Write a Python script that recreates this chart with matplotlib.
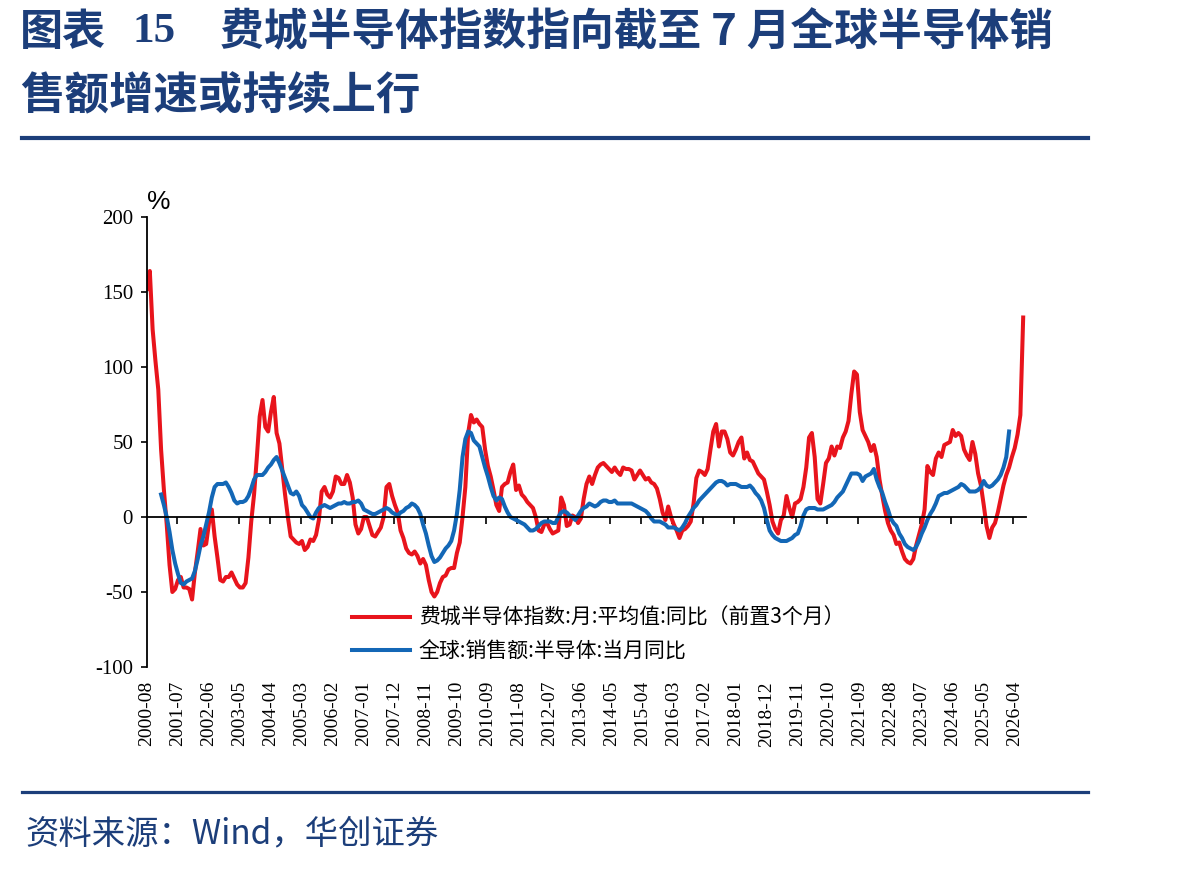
import numpy as np
import pandas as pd
import matplotlib
matplotlib.use("Agg")
import matplotlib.pyplot as plt
from matplotlib.lines import Line2D

# fonts: CJK first, then DejaVu for anything missing
plt.rcParams['font.family'] = ['Noto Sans CJK SC', 'DejaVu Sans']
plt.rcParams['axes.unicode_minus'] = False

# monthly axis, 2000-08 .. 2026-07
months = pd.period_range('2000-08', periods=312, freq='M').strftime('%Y-%m')
tick_labels = list(months[::11])

# SOX monthly average, yoy, shifted forward 3 months (%)
sox_yoy = [
    152, 164, 125, 104, 85, 45, 18, -5, -32, -50, -48, -42,
    -40, -47, -47, -48, -55, -37, -23, -8, -19, -18, -4, 5,
    -13, -27, -42, -43, -40, -40, -37, -41, -45, -47, -47, -44,
    -27, -3, 15, 40, 67, 78, 60, 57, 70, 80, 56, 49,
    32, 15, 0, -13, -15, -17, -18, -16, -22, -20, -15, -16,
    -12, -2, 17, 20, 15, 13, 17, 27, 26, 22, 22, 28,
    23, 13, -5, -11, -8, 0, 0, -6, -12, -13, -10, -7,
    0, 20, 22, 14, 8, 3, -9, -14, -21, -24, -25, -23,
    -26, -31, -28, -32, -42, -50, -53, -50, -44, -40, -39, -35,
    -34, -34, -24, -17, 0, 20, 56, 68, 63, 65, 62, 60,
    45, 34, 27, 18, 8, 4, 20, 22, 23, 30, 35, 18,
    21, 15, 13, 10, 8, 6, 0, -9, -10, -5, -4, -8,
    -11, -10, -9, 13, 8, -6, -5, 1, 0, -4, -1, 12,
    22, 27, 22, 28, 33, 35, 36, 34, 32, 30, 33, 30,
    28, 33, 32, 32, 31, 25, 28, 31, 28, 25, 26, 23,
    22, 19, 12, 3, -2, 7, 0, -5, -9, -14, -9, -8,
    -6, -3, 9, 26, 31, 30, 28, 32, 45, 57, 62, 47,
    57, 57, 52, 43, 41, 45, 50, 53, 39, 43, 38, 37,
    33, 29, 27, 25, 17, 8, -3, -8, -11, -2, 1, 14,
    6, 0, 9, 10, 12, 20, 33, 53, 56, 40, 12, 9,
    22, 36, 39, 47, 41, 47, 46, 53, 57, 64, 82, 97,
    95, 70, 58, 54, 50, 44, 48, 40, 25, 14, 4, -4,
    -9, -12, -18, -17, -23, -28, -30, -31, -28, -19, -12, -5,
    5, 34, 30, 28, 39, 43, 40, 48, 49, 50, 58, 54,
    56, 54, 45, 41, 38, 50, 42, 29, 21, 8, -6, -14,
    -7, -4, 3, 12, 21, 28, 33, 40, 46, 55, 68, 133,
]

# global semiconductor sales, yoy (%), starts 2001-01
sales_start = 5
sales_yoy = [
    15, 8, 0, -10, -22, -31, -38, -44, -45, -43, -42, -41,
    -36, -28, -19, -13, -5, 3, 13, 20, 22, 22, 22, 23,
    20, 16, 11, 9, 10, 10, 11, 14, 19, 25, 28, 28,
    28, 30, 33, 35, 38, 40, 36, 31, 26, 21, 16, 15,
    17, 14, 8, 6, 3, 0, -1, 3, 6, 7, 8, 7,
    6, 7, 8, 9, 9, 10, 9, 9, 10, 10, 11, 9,
    5, 4, 3, 2, 2, 3, 4, 5, 6, 5, 3, 2,
    1, 3, 4, 6, 7, 9, 8, 6, 2, -5, -11, -19,
    -26, -30, -29, -27, -24, -21, -19, -16, -9, 2, 18, 40,
    52, 57, 56, 51, 49, 47, 40, 33, 27, 20, 14, 11,
    13, 12, 7, 3, 0, -1, -2, -3, -4, -5, -7, -9,
    -9, -8, -6, -4, -3, -3, -3, -4, -4, 0, 3, 4,
    3, 1, 0, -2, 1, 4, 6, 7, 9, 8, 7, 8,
    10, 11, 11, 10, 10, 11, 9, 9, 9, 9, 9, 9,
    8, 7, 6, 5, 4, 2, -1, -3, -3, -3, -4, -5,
    -7, -7, -7, -8, -9, -7, -4, 0, 3, 6, 8, 11,
    13, 15, 17, 19, 21, 23, 24, 24, 23, 21, 22, 22,
    22, 21, 20, 20, 20, 21, 19, 16, 14, 11, 6, -2,
    -9, -12, -14, -15, -16, -16, -16, -15, -14, -12, -11, -6,
    1, 5, 6, 6, 6, 5, 5, 5, 6, 7, 8, 10,
    13, 15, 17, 21, 25, 29, 29, 29, 28, 24, 27, 28,
    29, 32, 25, 20, 16, 10, 5, -1, -4, -6, -11, -14,
    -18, -20, -21, -22, -20, -16, -11, -7, -2, 2, 5, 9,
    14, 15, 16, 16, 17, 18, 19, 20, 22, 21, 19, 17,
    17, 17, 18, 20, 24, 21, 20, 21, 23, 25, 28, 33,
    40, 57,
]

red_label = '费城半导体指数:月:平均值:同比（前置3个月）'
blue_label = '全球:销售额:半导体:当月同比'

navy = '#1c3e7a'
red = '#e8141c'
blue = '#1367b6'

W, H = 1198, 869
fig = plt.figure(figsize=(W / 100, H / 100), dpi=100)
ax = fig.add_axes([147 / W, 1 - 667 / H, (1026 - 147) / W, (667 - 217) / H])

x_red = np.arange(len(sox_yoy))
x_blue = np.arange(sales_start, sales_start + len(sales_yoy))
ax.plot(x_red, sox_yoy, color=red, lw=2.9, label=red_label, solid_joinstyle='round')
ax.plot(x_blue, sales_yoy, color=blue, lw=2.9, label=blue_label, solid_joinstyle='round')

ax.set_xlim(0, 312)
ax.set_ylim(-100, 200)
ax.set_yticks(np.arange(-100, 201, 50))

# axes look: only left spine and the zero line
ax.spines['top'].set_visible(False)
ax.spines['right'].set_visible(False)
ax.spines['bottom'].set_position(('data', 0))
ax.spines['bottom'].set_linewidth(1.3)
ax.spines['left'].set_linewidth(1.3)
ax.set_xticks(np.arange(11, 312, 11) - 0.5)
ax.tick_params(axis='x', direction='out', length=5, width=1.2, labelbottom=False)
ax.tick_params(axis='y', direction='out', length=4, width=1.2, pad=6,
               labelsize=15, labelfontfamily='Liberation Serif')

# date labels along the bottom edge
sec = ax.secondary_xaxis('bottom')
sec.set_xticks(np.arange(0, 312, 11), labels=tick_labels, rotation=90)
sec.tick_params(length=0, pad=10, labelsize=14, labelfontfamily='Liberation Serif')
sec.spines['bottom'].set_visible(False)

ax.legend(loc='upper left', bbox_to_anchor=(352 / W, 1 - 607 / H),
          bbox_transform=fig.transFigure, frameon=False, fontsize=15,
          handlelength=2.8, handletextpad=0.4, labelspacing=0.55,
          borderpad=0, borderaxespad=0)

fig.text(147 / W, 1 - 202 / H, '%', fontsize=19, family='Liberation Sans',
         ha='left', va='center')

# title
fig.text(20 / W, 1 - 32 / H, '图表', fontsize=31, weight='bold', color=navy, va='center')
fig.text(132 / W, 1 - 32 / H, '15', fontsize=31, weight='bold', color=navy,
         va='center', family='Liberation Serif')
fig.text(220 / W, 1 - 32 / H, '费城半导体指数指向截至 7 月全球半导体销', fontsize=31.5,
         weight='bold', color=navy, va='center')
fig.text(20 / W, 1 - 96 / H, '售额增速或持续上行', fontsize=32, weight='bold',
         color=navy, va='center')

fig.add_artist(Line2D([22 / W, 1088 / W], [1 - 138 / H] * 2, color=navy, lw=3,
                      transform=fig.transFigure))
fig.add_artist(Line2D([22 / W, 1088 / W], [1 - 792 / H] * 2, color=navy, lw=2.3,
                      transform=fig.transFigure))

fig.text(25 / W, 1 - 834 / H, '资料来源：Wind，华创证券', fontsize=24, color=navy,
         va='center')

fig.savefig('out.png', dpi=100)
